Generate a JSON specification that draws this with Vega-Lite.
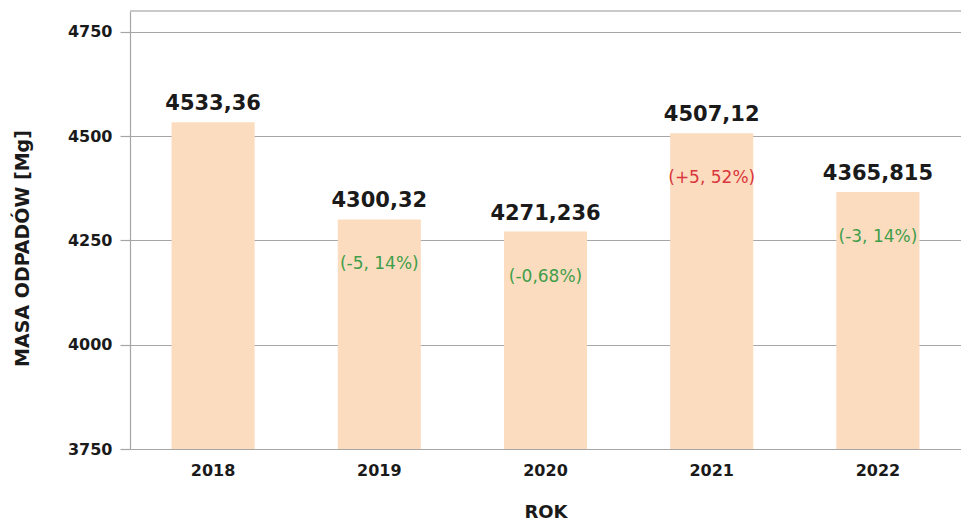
{
  "$schema": "https://vega.github.io/schema/vega-lite/v6.json",
  "width": 831,
  "height": 438,
  "autosize": {"type": "none"},
  "padding": {"left": 130, "top": 11, "right": 0, "bottom": 76},
  "background": "white",
  "config": {
    "view": {"stroke": null},
    "font": "DejaVu Sans"
  },
  "data": {
    "values": [
      {"rok": "2018", "masa": 4533.36, "etykieta": "4533,36", "zmiana": "", "kierunek": "brak"},
      {"rok": "2019", "masa": 4300.32, "etykieta": "4300,32", "zmiana": "(-5, 14%)", "kierunek": "spadek"},
      {"rok": "2020", "masa": 4271.236, "etykieta": "4271,236", "zmiana": "(-0,68%)", "kierunek": "spadek"},
      {"rok": "2021", "masa": 4507.12, "etykieta": "4507,12", "zmiana": "(+5, 52%)", "kierunek": "wzrost"},
      {"rok": "2022", "masa": 4365.815, "etykieta": "4365,815", "zmiana": "(-3, 14%)", "kierunek": "spadek"}
    ]
  },
  "layer": [
    {
      "mark": {"type": "bar", "color": "#fcdcbf", "clip": true},
      "encoding": {
        "x": {
          "field": "rok",
          "type": "ordinal",
          "title": "ROK",
          "scale": {"paddingInner": 0.5, "paddingOuter": 0.25},
          "axis": {
            "grid": false,
            "domain": false,
            "ticks": false,
            "labelAngle": 0,
            "labelPadding": 13,
            "labelFont": "DejaVu Sans",
            "labelFontSize": 16,
            "labelFontWeight": "bold",
            "labelColor": "#1a1a1a",
            "titleFont": "DejaVu Sans",
            "titleFontSize": 18,
            "titleFontWeight": "bold",
            "titleColor": "#1a1a1a",
            "titleBaseline": "middle",
            "titleY": 63
          }
        },
        "y": {
          "field": "masa",
          "type": "quantitative",
          "title": "MASA ODPADÓW [Mg]",
          "scale": {"domain": [3750, 4800], "zero": false, "nice": false},
          "axis": {
            "values": [3750, 4000, 4250, 4500, 4750],
            "format": "d",
            "grid": true,
            "gridColor": "#a6a6a6",
            "gridWidth": 1.2,
            "domain": true,
            "domainColor": "#a6a6a6",
            "domainWidth": 1.2,
            "ticks": true,
            "tickSize": 10,
            "tickColor": "#a6a6a6",
            "tickWidth": 1.2,
            "labelPadding": 8,
            "labelFont": "DejaVu Sans",
            "labelFontSize": 16,
            "labelFontWeight": "bold",
            "labelColor": "#1a1a1a",
            "titleFont": "DejaVu Sans",
            "titleFontSize": 19,
            "titleFontWeight": "bold",
            "titleColor": "#1a1a1a",
            "titleAngle": -90,
            "titleAlign": "center",
            "titleBaseline": "middle",
            "titleX": -108,
            "titleY": 237
          }
        }
      }
    },
    {
      "mark": {"type": "rule", "color": "#c8c8c8", "strokeWidth": 1.2},
      "encoding": {"y": {"datum": 4800, "type": "quantitative"}}
    },
    {
      "mark": {"type": "text", "baseline": "alphabetic", "dy": -12, "fontSize": 21, "fontWeight": "bold", "color": "#1a1a1a"},
      "encoding": {
        "x": {"field": "rok", "type": "ordinal"},
        "y": {"field": "masa", "type": "quantitative"},
        "text": {"field": "etykieta"}
      }
    },
    {
      "mark": {"type": "text", "baseline": "middle", "dy": 45, "fontSize": 17, "fontWeight": "normal"},
      "encoding": {
        "x": {"field": "rok", "type": "ordinal"},
        "y": {"field": "masa", "type": "quantitative"},
        "text": {"field": "zmiana"},
        "color": {
          "field": "kierunek",
          "type": "nominal",
          "scale": {"domain": ["spadek", "wzrost", "brak"], "range": ["#3f9e4a", "#d9363c", "#ffffff"]},
          "legend": null
        }
      }
    }
  ]
}
